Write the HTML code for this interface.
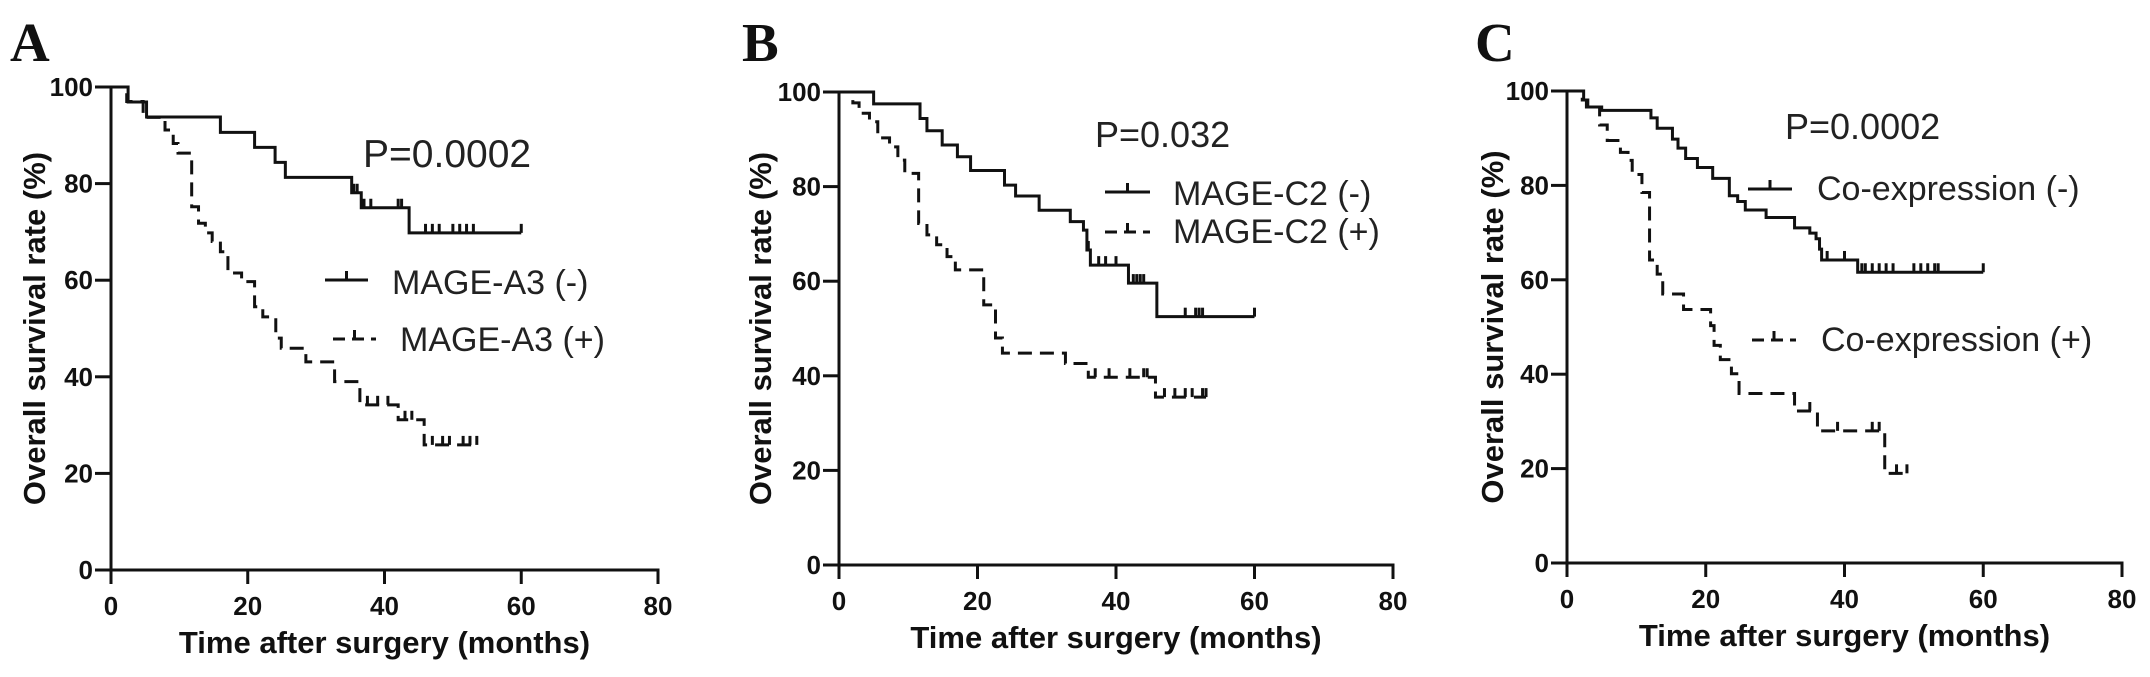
<!DOCTYPE html>
<html><head><meta charset="utf-8">
<style>
html,body{margin:0;padding:0;background:#fff;}
svg{display:block;}
text{font-family:"Liberation Sans",Arial,sans-serif;}
</style></head>
<body>
<svg id="fig" width="2150" height="677" viewBox="0 0 2150 677" xmlns="http://www.w3.org/2000/svg"></svg>
<script>
// ---------- Data (months, survival %) ----------
const xTicks = [0, 20, 40, 60, 80];
const yTicks = [0, 20, 40, 60, 80, 100];

const aNegTimes = [0, 2.5, 5.2, 16, 21, 24, 25.5, 35.2, 36.6, 43.6, 60];
const aNegSurv  = [100, 96.9, 93.8, 90.6, 87.5, 84.4, 81.3, 78.1, 75, 69.8, 69.8];
const aNegCens  = [35.5, 36, 37, 38, 42, 42.5, 46, 47, 48, 50, 51, 52, 53, 60];
const aPosTimes = [0, 2.3, 4.7, 7.9, 9.1, 9.8, 11.8, 12.8, 13.8, 14.8, 16, 17.1, 19.1, 21, 22.2, 24.1, 24.9, 28.5, 32.7, 36.4, 42, 45.8, 53.7];
const aPosSurv  = [100, 97, 93.7, 91.1, 88.3, 86.3, 75.2, 71.8, 69.8, 68, 65.9, 61.5, 59.7, 54.5, 52.4, 48, 45.9, 43.1, 39, 34.2, 31.1, 25.9, 25.9];
const aPosCens  = [37.5, 39, 40.5, 43, 44, 47, 48.5, 49.5, 51.5, 52.5, 53.5];

const bNegTimes = [0, 5, 11.7, 12.7, 14.9, 17.1, 19, 23.9, 25.5, 28.9, 33.4, 35.3, 35.8, 36.3, 41.8, 45.9, 60];
const bNegSurv  = [100, 97.5, 94.4, 91.8, 88.8, 86.3, 83.4, 80.3, 78, 75, 72.6, 70.8, 66.6, 63.4, 59.6, 52.5, 52.5];
const bNegCens  = [36, 37.5, 38.5, 40, 42.5, 43, 43.5, 44, 50, 51.5, 52, 52.5, 60];
const bPosTimes = [0, 2, 2.9, 4.4, 5.6, 7.3, 8.5, 9.5, 11.5, 12.7, 14.1, 15.6, 16.8, 20.9, 22.6, 23.6, 32.7, 36, 45.7, 53];
const bPosSurv  = [100, 97.7, 95.5, 93.7, 90.3, 88.4, 85.6, 82.8, 72.2, 69.8, 67.7, 65.2, 62.4, 55, 48, 44.8, 42.6, 39.7, 35.5, 35.5];
const bPosCens  = [37, 39, 42, 44, 44.5, 47, 48.5, 50, 51, 52.5, 53];

const cNegTimes = [0, 2.4, 3, 5, 12.1, 13, 15.2, 16, 17.1, 18.8, 21, 23.4, 24.6, 25.7, 28.7, 32.8, 35, 35.9, 36.4, 36.7, 41.9, 60];
const cNegSurv  = [100, 98.1, 96.6, 95.9, 94.3, 92.1, 89.8, 87.9, 85.7, 83.8, 81.5, 77.8, 76.6, 74.8, 73.2, 71, 69.9, 68.7, 66.5, 64.2, 61.6, 61.6];
const cNegCens  = [37.5, 40, 42.5, 43, 44, 45, 46, 47, 50, 51, 52, 53, 53.5, 60];
const cPosTimes = [0, 2.2, 2.8, 4.7, 5.8, 7.7, 8.8, 9.4, 10.8, 11.9, 13, 13.8, 16.8, 20.7, 21.2, 22.1, 23.7, 24.8, 32.8, 36.1, 45.8, 49.1];
const cPosSurv  = [100, 98.1, 96.6, 92.8, 89.5, 87, 85.3, 82.3, 78.5, 64.2, 61.2, 57, 53.7, 50.3, 46.1, 43.1, 40.1, 35.9, 32.2, 28, 19, 19];
const cPosCens  = [35, 39, 44, 45, 47.5, 49];

// ---------- Rendering ----------
const NS = "http://www.w3.org/2000/svg";
const svg = document.getElementById("fig");
function mk(tag, attrs, parent) {
  const e = document.createElementNS(NS, tag);
  for (const k in attrs) e.setAttribute(k, attrs[k]);
  (parent || svg).appendChild(e);
  return e;
}

const panels = [
  {id:"a", letter:"A", letterX:10, x0:111, x80:658, y0:570, y100:87, titleX:34,
   pText:"P=0.0002", pX:363, pY:167, pSize:39,
   neg:{t:aNegTimes, s:aNegSurv, c:aNegCens}, pos:{t:aPosTimes, s:aPosSurv, c:aPosCens},
   legNeg:{lx1:325, lx2:368, ly:280, tx:392, ty:294, label:"MAGE-A3 (-)"},
   legPos:{lx1:333, lx2:376, ly:339, tx:400, ty:351, label:"MAGE-A3 (+)"}},
  {id:"b", letter:"B", letterX:742, x0:839, x80:1393, y0:565, y100:92, titleX:760,
   pText:"P=0.032", pX:1095, pY:147, pSize:36,
   neg:{t:bNegTimes, s:bNegSurv, c:bNegCens}, pos:{t:bPosTimes, s:bPosSurv, c:bPosCens},
   legNeg:{lx1:1105, lx2:1150, ly:192, tx:1173, ty:205, label:"MAGE-C2 (-)"},
   legPos:{lx1:1105, lx2:1150, ly:232, tx:1173, ty:243, label:"MAGE-C2 (+)"}},
  {id:"c", letter:"C", letterX:1475, x0:1567, x80:2122, y0:563, y100:91, titleX:1492,
   pText:"P=0.0002", pX:1785, pY:139, pSize:36,
   neg:{t:cNegTimes, s:cNegSurv, c:cNegCens}, pos:{t:cPosTimes, s:cPosSurv, c:cPosCens},
   legNeg:{lx1:1748, lx2:1792, ly:189, tx:1817, ty:200, label:"Co-expression (-)"},
   legPos:{lx1:1752, lx2:1796, ly:340, tx:1821, ty:351, label:"Co-expression (+)"}}
];

function stepPath(times, surv, xs, ys) {
  let d = "M" + xs(times[0]) + "," + ys(surv[0]);
  for (let i = 1; i < times.length; i++) {
    d += " H" + xs(times[i]) + " V" + ys(surv[i]);
  }
  return d;
}
function survAt(times, surv, t) {
  let v = surv[0];
  for (let i = 0; i < times.length; i++) { if (times[i] <= t) v = surv[i]; }
  return v;
}

panels.forEach(p => {
  const xs = m => p.x0 + (p.x80 - p.x0) * m / 80;
  const ys = v => p.y0 - (p.y0 - p.y100) * v / 100;
  const g = mk("g", {});
  
  

  const letter = mk("text", {x:p.letterX, y:61, "font-family":"'Liberation Serif',serif", "font-weight":"bold", "font-size":"55", fill:"#111"}, g);
  letter.style.fontFamily = "'Liberation Serif', serif";
  letter.textContent = p.letter;
  
  

  // axes
  const ax = mk("g", {stroke:"#111", "stroke-width":"3", fill:"none"}, g);
  
  
  mk("line", {x1:p.x0, y1:ys(100)-1, x2:p.x0, y2:p.y0+1.5}, ax);
  mk("line", {x1:p.x0-1.5, y1:p.y0, x2:xs(80)+1.5, y2:p.y0}, ax);

  yTicks.forEach(v => {
    mk("line", {x1:p.x0-16, y1:ys(v), x2:p.x0, y2:ys(v)}, ax);
    const t = mk("text", {x:p.x0-18, y:ys(v)+9, "text-anchor":"end", "font-weight":"bold", "font-size":"26", fill:"#111"}, g);
    t.textContent = v;
    
    
  });
  xTicks.forEach(v => {
    mk("line", {x1:xs(v), y1:p.y0, x2:xs(v), y2:p.y0+14}, ax);
    const t = mk("text", {x:xs(v), y:p.y0+45, "text-anchor":"middle", "font-weight":"bold", "font-size":"26", fill:"#111"}, g);
    t.textContent = v;
    
    
  });

  const xt = mk("text", {x:(p.x0+xs(80))/2, y:p.y0+83, "text-anchor":"middle", "font-weight":"bold", "font-size":"31", fill:"#111"}, g);
  xt.textContent = "Time after surgery (months)";
  
  
  const yc = (ys(0)+ys(100))/2;
  const yt = mk("text", {x:p.titleX, y:yc, "text-anchor":"middle", "font-weight":"bold", "font-size":"31", fill:"#111", transform:"rotate(-90 "+p.titleX+" "+yc+") translate(0 11)"}, g);
  yt.textContent = "Overall survival rate (%)";
  
  

  // curves
  [["neg", p.neg, null], ["pos", p.pos, "14 8"]].forEach(([k, ser, dash]) => {
    const attrs = {d: stepPath(ser.t, ser.s, xs, ys), stroke:"#111", "stroke-width":"3", fill:"none"};
    if (dash) attrs["stroke-dasharray"] = dash;
    const path = mk("path", attrs, g);
    
    
    ser.c.forEach(ct => {
      const yy = ys(survAt(ser.t, ser.s, ct));
      const cl = mk("line", {x1:xs(ct), y1:yy, x2:xs(ct), y2:yy-9, stroke:"#111", "stroke-width":"3"}, g);
      
      
    });
  });

  // p value
  const pt = mk("text", {x:p.pX, y:p.pY, "font-size":p.pSize, fill:"#222"}, g);
  pt.textContent = p.pText;
  
  

  // legend
  [["neg", p.legNeg, null], ["pos", p.legPos, "12 7"]].forEach(([k, L, dash]) => {
    const lg = mk("g", {}, g);
    
    
    const la = {x1:L.lx1, y1:L.ly, x2:L.lx2, y2:L.ly, stroke:"#111", "stroke-width":"3"};
    if (dash) la["stroke-dasharray"] = dash;
    mk("line", la, lg);
    const mx = (L.lx1+L.lx2)/2;
    mk("line", {x1:mx, y1:L.ly, x2:mx, y2:L.ly-9, stroke:"#111", "stroke-width":"3"}, lg);
    const lt = mk("text", {x:L.tx, y:L.ty, "font-size":"34", fill:"#222"}, lg);
    lt.textContent = L.label;
  });
});
</script>
</body></html>
